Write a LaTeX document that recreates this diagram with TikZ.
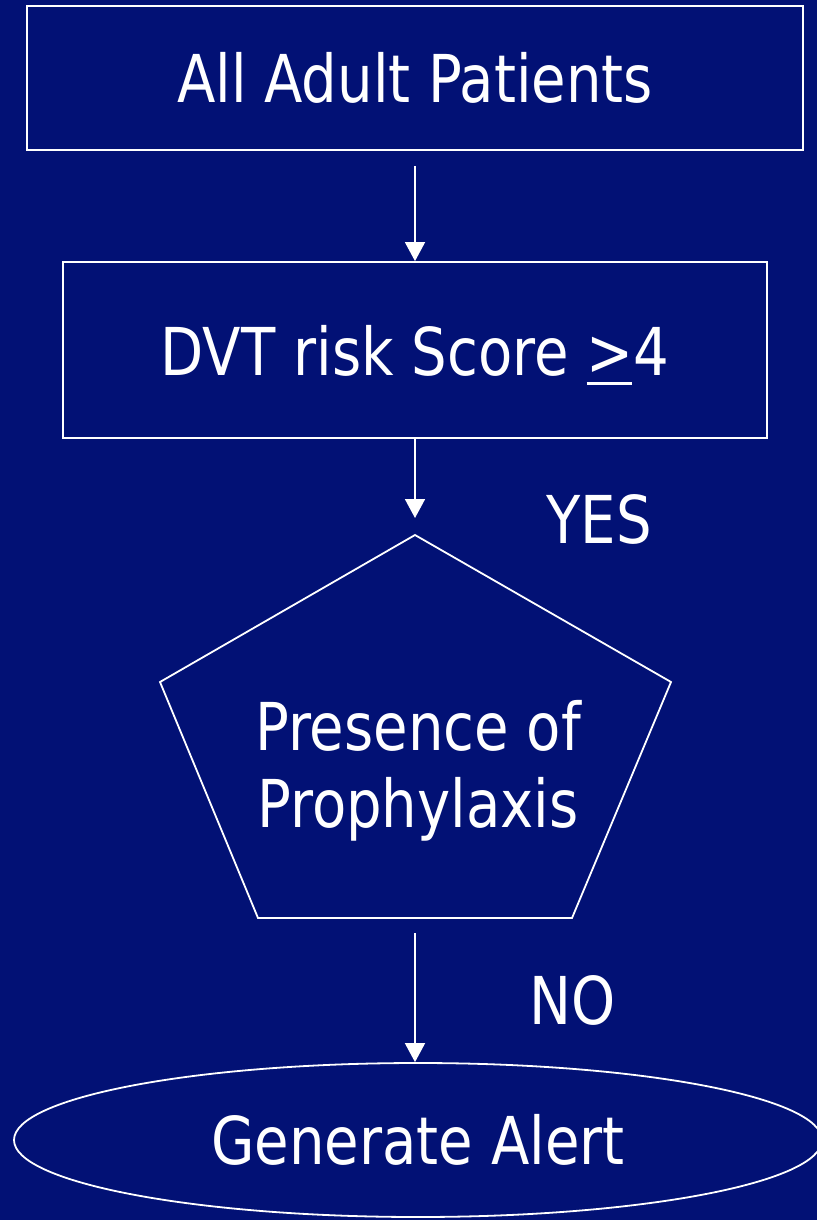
\documentclass[tikz,border=0pt]{standalone}
\usepackage{fontspec}
\setmainfont{DejaVu Sans}[FakeStretch=0.85]
\usetikzlibrary{arrows.meta,shapes.geometric}
\definecolor{fondo}{RGB}{2,17,117}

\begin{document}
\begin{tikzpicture}[x=1pt,y=-1pt,
    every node/.style={text=white,font=\fontsize{66}{77}\selectfont},
    caja/.style={draw=white,line width=1.8pt,inner sep=0pt},
    flecha/.style={draw=white,line width=1.7pt,-{Triangle[width=20pt,length=19pt]}}]
      \clip (0,0) rectangle (817,1220);
      \fill[fondo] (0,0) rectangle (817,1220);
      % Cajas
      \node[caja,minimum width=776pt,minimum height=144pt] (adultos) at (415,78) {All Adult Patients};
      \node[caja,text depth=0pt,minimum width=704pt,minimum height=176pt] (riesgo) at (415,350) {DVT risk Score \rlap{\rule[-10pt]{45pt}{3pt}}>4};
      % Pentagono
      \coordinate (pa) at (415,535);
      \coordinate (pd) at (671,682);
      \coordinate (pbd) at (572,918);
      \coordinate (pbi) at (258,918);
      \coordinate (pi) at (160,682);
      \coordinate (pab) at (415,918);
      \draw[white,line width=1.8pt] (pa) -- (pd) -- (pbd) -- (pbi) -- (pi) -- cycle;
      \node[align=center] (profilaxis) at (418,771) {Presence of\\Prophylaxis};
      % Elipse
      \node[caja,ellipse,minimum width=808pt,minimum height=154pt] (alerta) at (418,1140) {Generate Alert};
      % Etiquetas
      \node (si) at (599,519) {YES};
      \node (no) at (573,1000) {NO};
      % Flechas
      \draw[flecha,shorten <=15pt] (adultos) -- (riesgo);
      \draw[flecha,shorten >=17pt] (riesgo) -- (pa);
      \draw[flecha,shorten <=15pt] (pab) -- (pab |- alerta.north);
    \end{tikzpicture}
\end{document}
